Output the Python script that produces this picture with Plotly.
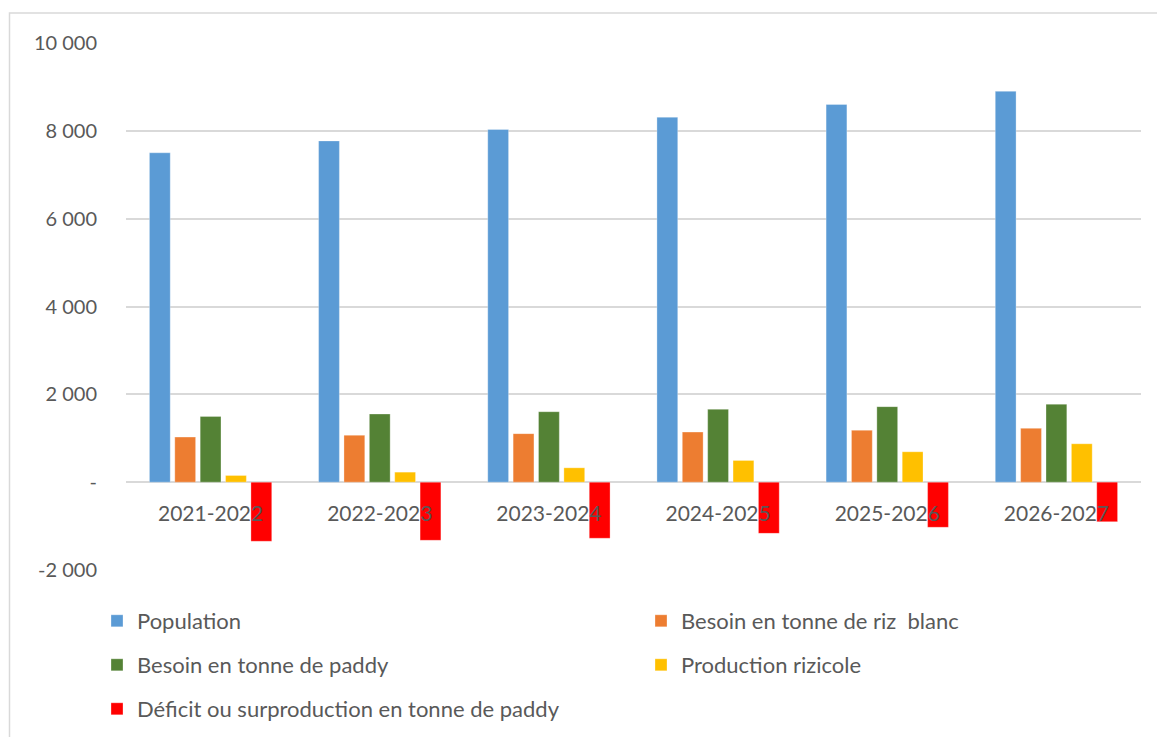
import plotly.graph_objects as go

categories = ["2021-2022", "2022-2023", "2023-2024", "2024-2025", "2025-2026", "2026-2027"]
population = [7500, 7770, 8030, 8310, 8600, 8900]
besoin_riz_blanc = [1026, 1068, 1105, 1140, 1182, 1225]
besoin_paddy = [1498, 1552, 1604, 1660, 1720, 1775]
production = [152, 228, 327, 494, 692, 874]
deficit = [-1346, -1324, -1277, -1166, -1028, -901]

series_names = [
    "Population",
    "Besoin en tonne de riz  blanc",
    "Besoin en tonne de paddy",
    "Production rizicole",
    "Déficit ou surproduction en tonne de paddy",
]
series_values = [population, besoin_riz_blanc, besoin_paddy, production, deficit]
colors = ["#5B9BD5", "#ED7D31", "#548235", "#FFC000", "#FF0000"]
legend_ids = ["legend", "legend2", "legend3", "legend4", "legend5"]

y_tickvals = [-2000, 0, 2000, 4000, 6000, 8000, 10000]
y_ticktext = ["-2 000", "-", "2 000", "4 000", "6 000", "8 000", "10 000"]

FONT = "Lato"
TXT = "#595959"

fig = go.Figure()
for name, vals, col, lg in zip(series_names, series_values, colors, legend_ids):
    fig.add_trace(go.Bar(
        x=categories, y=vals, name=name, legend=lg,
        marker=dict(color=col, line=dict(color="rgba(255,255,255,0.6)", width=0.5)),
    ))

W, H = 1157, 737
L, R, T, B = 126, 16, 43, 167
pw, ph = W - L - R, H - T - B

def px_x(p):
    return (p - L) / pw

def px_y(p):
    return (H - B - p) / ph

def legend_at(xp, yp):
    return dict(
        x=px_x(xp), y=px_y(yp),
        orientation="h", xanchor="left", yanchor="middle",
        font=dict(family=FONT, size=22, color=TXT),
        bgcolor="rgba(0,0,0,0)", itemclick=False, itemdoubleclick=False,
    )

col1, col2 = 97, 641
row1, row2, row3 = 621, 665, 709

fig.update_layout(
    width=W, height=H,
    margin=dict(l=L, r=R, t=T, b=B, autoexpand=False),
    paper_bgcolor="white", plot_bgcolor="white",
    font=dict(family=FONT, size=21, color=TXT),
    barmode="group", bargap=0.25, bargroupgap=0.18,
    showlegend=True,
    legend=legend_at(col1, row1),
    legend2=legend_at(col2, row1),
    legend3=legend_at(col1, row2),
    legend4=legend_at(col2, row2),
    legend5=legend_at(col1, row3),
    xaxis=dict(
        anchor="free", position=2000 / 12000,
        showline=False, showgrid=False, zeroline=False,
        ticks="", ticklabelstandoff=17,
        tickfont=dict(family=FONT, size=21, color=TXT),
    ),
    yaxis=dict(
        range=[-2000, 10000], tickvals=y_tickvals, ticktext=y_ticktext,
        showgrid=True, gridcolor="#D9D9D9", gridwidth=1.5,
        zeroline=True, zerolinecolor="#D9D9D9", zerolinewidth=1.5,
        showline=False, ticks="", ticklabelstandoff=28,
        tickfont=dict(family=FONT, size=20, color=TXT),
    ),
    shapes=[dict(
        type="rect", xref="paper", yref="paper",
        x0=px_x(9.5), x1=px_x(1200), y0=px_y(800), y1=px_y(13),
        line=dict(color="#D9D9D9", width=1.5), fillcolor="rgba(0,0,0,0)",
        layer="below",
    )],
)

fig.write_html("out.html")
